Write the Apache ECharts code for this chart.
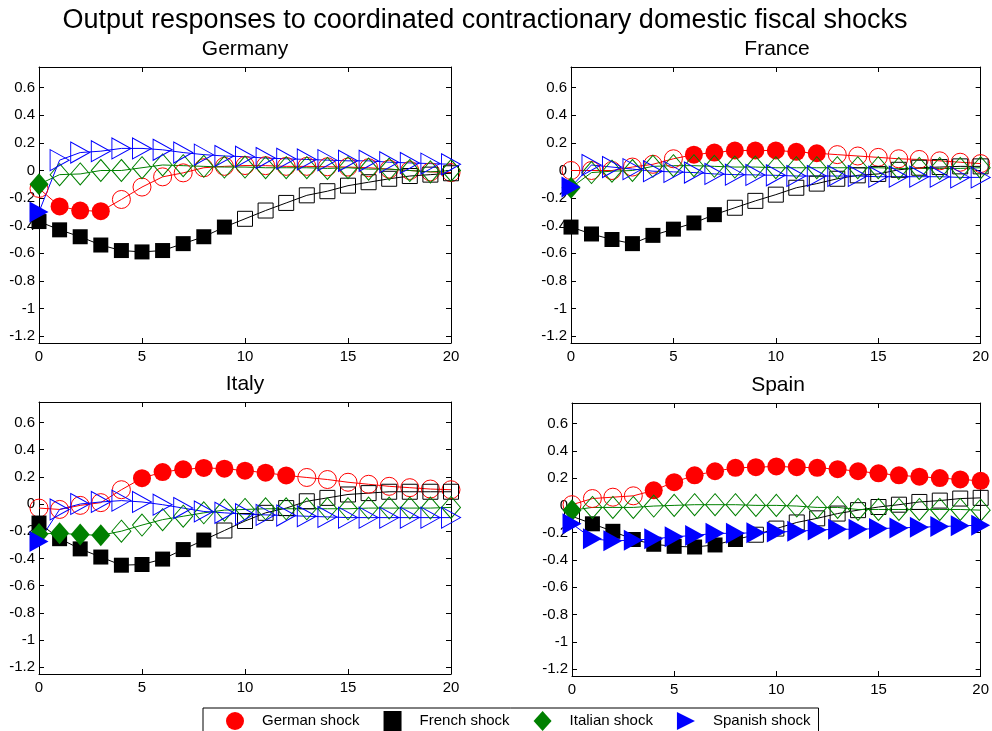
<!DOCTYPE html>
<html><head><meta charset="utf-8">
<script src="https://cdn.jsdelivr.net/npm/echarts@6/dist/echarts.min.js"></script>
<style>html,body{margin:0;padding:0;background:#fff}#chart{width:992px;height:731px}</style>
</head><body><div id="chart"></div>
<script>
// ---------- data ----------
const horizons = [0,1,2,3,4,5,6,7,8,9,10,11,12,13,14,15,16,17,18,19,20];
const xTicks = [0,5,10,15,20];
const yTicks = [-1.2,-1,-0.8,-0.6,-0.4,-0.2,0,0.2,0.4,0.6];
const shockNames = ['German shock','French shock','Italian shock','Spanish shock'];
const panelTitles = ['Germany','France','Italy','Spain'];
const mainTitle = 'Output responses to coordinated contractionary domestic fiscal shocks';

// Germany
const deGerman  = [-0.13,-0.26,-0.29,-0.295,-0.21,-0.12,-0.046,-0.017,0.02,0.03,0.036,0.035,0.03,0.03,0.027,0.025,0.02,0.01,0.0,-0.01,-0.015];
const deFrench  = [-0.37,-0.43,-0.48,-0.54,-0.58,-0.59,-0.58,-0.53,-0.48,-0.41,-0.35,-0.29,-0.235,-0.18,-0.15,-0.11,-0.085,-0.06,-0.04,-0.03,-0.02];
const deItalian = [-0.1,-0.03,-0.025,0,0,0.02,0.04,0.035,0.03,0.025,0.025,0.02,0.02,0.02,0.015,0.02,0.01,0.01,0.0,-0.01,0.0];
const deSpanish = [-0.3,0.075,0.13,0.14,0.16,0.16,0.15,0.13,0.115,0.105,0.1,0.09,0.085,0.08,0.075,0.07,0.07,0.06,0.055,0.05,0.045];
const deGermanSig = [1,2,3];
const deFrenchSig = [0,1,2,3,4,5,6,7,8,9];
const deItalianSig = [0];
const deSpanishSig = [0];

// France
const frGerman  = [0.0,0.0,0.0,0.025,0.045,0.085,0.115,0.13,0.145,0.145,0.145,0.135,0.125,0.115,0.105,0.095,0.085,0.08,0.07,0.06,0.05];
const frFrench  = [-0.41,-0.46,-0.5,-0.53,-0.47,-0.425,-0.38,-0.32,-0.27,-0.22,-0.175,-0.125,-0.095,-0.06,-0.035,-0.025,0.005,0.02,0.025,0.03,0.03];
const frItalian = [-0.125,-0.015,-0.005,0,0.03,0.035,0.035,0.03,0.025,0.025,0.02,0.02,0.02,0.02,0.02,0.02,0.015,0.015,0.015,0.015,0.02];
const frSpanish = [-0.12,0.04,0.025,0.01,-0.005,-0.01,-0.015,-0.025,-0.03,-0.032,-0.035,-0.04,-0.04,-0.04,-0.04,-0.045,-0.045,-0.045,-0.045,-0.05,-0.05];
const frGermanSig = [6,7,8,9,10,11,12];
const frFrenchSig = [0,1,2,3,4,5,6,7];
const frItalianSig = [0];
const frSpanishSig = [0];

// Italy
const itGerman  = [-0.03,-0.04,-0.01,0.01,0.105,0.19,0.235,0.255,0.265,0.26,0.245,0.23,0.21,0.195,0.18,0.16,0.145,0.13,0.12,0.11,0.105];
const itFrench  = [-0.14,-0.255,-0.33,-0.39,-0.45,-0.445,-0.405,-0.335,-0.265,-0.195,-0.125,-0.065,-0.03,0.02,0.045,0.07,0.08,0.09,0.09,0.09,0.09];
const itItalian = [-0.22,-0.215,-0.225,-0.23,-0.2,-0.155,-0.115,-0.09,-0.065,-0.045,-0.04,-0.035,-0.035,-0.035,-0.035,-0.035,-0.03,-0.03,-0.03,-0.03,-0.025];
const itSpanish = [-0.275,-0.04,0,0.015,0.025,0.015,-0.005,-0.03,-0.055,-0.065,-0.075,-0.08,-0.085,-0.09,-0.095,-0.1,-0.1,-0.1,-0.1,-0.1,-0.1];
const itGermanSig = [5,6,7,8,9,10,11,12];
const itFrenchSig = [0,1,2,3,4,5,6,7,8];
const itItalianSig = [0,1,2,3];
const itSpanishSig = [0];

// Spain
const esGerman  = [0.005,0.05,0.06,0.07,0.11,0.17,0.22,0.25,0.275,0.28,0.285,0.28,0.275,0.265,0.25,0.235,0.22,0.21,0.2,0.19,0.18];
const esFrench  = [-0.08,-0.135,-0.19,-0.25,-0.285,-0.3,-0.305,-0.29,-0.25,-0.215,-0.17,-0.125,-0.095,-0.06,-0.035,-0.012,0.005,0.025,0.035,0.05,0.055];
const esItalian = [-0.035,-0.015,-0.015,-0.015,-0.005,0,0.005,0.005,0.005,0,0,-0.005,-0.015,-0.015,-0.03,-0.03,-0.03,-0.03,-0.03,-0.03,-0.035];
const esSpanish = [-0.135,-0.245,-0.26,-0.255,-0.245,-0.23,-0.22,-0.205,-0.205,-0.2,-0.195,-0.19,-0.18,-0.175,-0.175,-0.17,-0.165,-0.16,-0.155,-0.15,-0.145];
const esGermanSig = [4,5,6,7,8,9,10,11,12,13,14,15,16,17,18,19,20];
const esFrenchSig = [1,2,3,4,5,6,7,8];
const esItalianSig = [0];
const esSpanishSig = [0,1,2,3,4,5,6,7,8,9,10,11,12,13,14,15,16,17,18,19,20];

// ---------- styling / layout ----------
const FONT = "'Liberation Sans', Arial, Helvetica, sans-serif";
const colors = ['#ff0000','#000000','#008000','#0000ff'];
const triPath = 'path://M0,0L10,5L0,10Z';
const symbols = ['circle','rect','diamond',triPath];
const symbolSizes = [18, 15, [19,22], [19,21]];
const grids = [
  {left:39, top:67, width:412, height:276},
  {left:571, top:67, width:412, height:276},
  {left:39, top:402, width:412, height:272},
  {left:572, top:403, width:412, height:273}
];
const panelValues = [
  [deGerman, deFrench, deItalian, deSpanish],
  [frGerman, frFrench, frItalian, frSpanish],
  [itGerman, itFrench, itItalian, itSpanish],
  [esGerman, esFrench, esItalian, esSpanish]
];
const panelSig = [
  [deGermanSig, deFrenchSig, deItalianSig, deSpanishSig],
  [frGermanSig, frFrenchSig, frItalianSig, frSpanishSig],
  [itGermanSig, itFrenchSig, itItalianSig, itSpanishSig],
  [esGermanSig, esFrenchSig, esItalianSig, esSpanishSig]
];

const xAxes = [], yAxes = [], series = [], graphics = [];
const tickStyle = {show:true, inside:true, length:5, lineStyle:{color:'#000', width:1}};
const lineStyle = {show:true, onZero:false, lineStyle:{color:'#000', width:1}};
grids.forEach((g, i) => {
  xAxes.push({type:'value', gridIndex:i, position:'bottom', min:0, max:20, interval:5,
    axisLine:lineStyle, axisTick:tickStyle, splitLine:{show:false},
    axisLabel:{show:true, margin:6, color:'#000', fontSize:15, fontFamily:FONT}});
  xAxes.push({type:'value', gridIndex:i, position:'top', min:0, max:20, interval:5,
    axisLine:lineStyle, axisTick:tickStyle, splitLine:{show:false}, axisLabel:{show:false}});
  yAxes.push({type:'value', gridIndex:i, position:'left', min:-1.25, max:0.75,
    axisLine:lineStyle, splitLine:{show:false},
    axisTick:Object.assign({customValues:yTicks}, tickStyle),
    axisLabel:{show:true, customValues:yTicks, margin:4, color:'#000', fontSize:15, fontFamily:FONT,
      formatter:v => String(Math.round(v*10)/10)}});
  yAxes.push({type:'value', gridIndex:i, position:'right', min:-1.25, max:0.75,
    axisLine:lineStyle, splitLine:{show:false},
    axisTick:Object.assign({customValues:yTicks}, tickStyle),
    axisLabel:{show:false}});
  graphics.push({type:'text', silent:true,
    style:{text:panelTitles[i], x:g.left + g.width/2, y:g.top - 18, textAlign:'center', textVerticalAlign:'middle',
      font:'21px ' + FONT, fill:'#000'}});
  panelValues[i].forEach((vals, k) => {
    const sig = panelSig[i][k];
    const c = colors[k];
    series.push({
      type:'line', name:shockNames[k], xAxisIndex:2*i, yAxisIndex:2*i,
      symbol:symbols[k], symbolSize:symbolSizes[k], showAllSymbol:true, clip:false,
      color:c,
      lineStyle:{color:c, width:1},
      itemStyle:{color:c},
      emphasis:{disabled:true}, silent:true, animation:false,
      data: horizons.map((h, j) => {
        const filled = sig.indexOf(j) >= 0;
        return {value:[h, vals[j]],
          itemStyle: filled ? {color:c, borderWidth:0}
                            : {color:'rgba(0,0,0,0)', borderColor:c, borderWidth:1}};
      })
    });
  });
});
graphics.push({type:'text', silent:true,
  style:{text:mainTitle, x:485, y:21, textAlign:'center', textVerticalAlign:'middle',
    font:'27px ' + FONT, fill:'#000'}});

const chart = echarts.init(document.getElementById('chart'), null, {renderer:'canvas'});
chart.setOption({
  backgroundColor:'#fff',
  animation:false,
  grid:grids,
  xAxis:xAxes,
  yAxis:yAxes,
  series:series,
  graphic:graphics,
  legend:{
    left:203, top:708, orient:'horizontal',
    borderColor:'#000', borderWidth:1, padding:[3,8,3,23],
    itemWidth:18, itemHeight:20, itemGap:24,
    selectedMode:false,
    textStyle:{fontSize:15, fontFamily:FONT, color:'#000', padding:[0,0,0,13]},
    data:[
      {name:shockNames[0], icon:symbols[0]},
      {name:shockNames[1], icon:symbols[1]},
      {name:shockNames[2], icon:symbols[2]},
      {name:shockNames[3], icon:symbols[3]}
    ]
  }
});
</script></body></html>
